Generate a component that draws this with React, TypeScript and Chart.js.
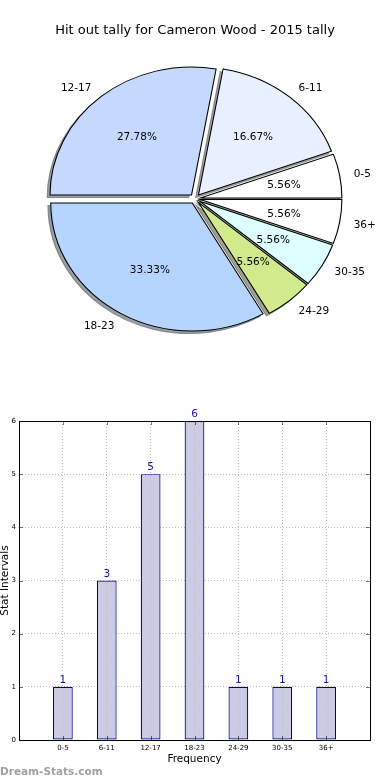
import React, { useEffect, useRef } from 'react';
import { Chart, registerables } from 'chart.js';

Chart.register(...registerables);

const categories = ['0-5', '6-11', '12-17', '18-23', '24-29', '30-35', '36+'];
const tallies = [1, 3, 5, 6, 1, 1, 1];
const pieColors = ['#ffffff', '#e9f0ff', '#c5d9ff', '#b5d5ff', '#d1ea8c', '#ddffff', '#ffffff'];
const explode = [0.038, 0.038, 0.038, 0.038, 0.038, 0.038, 0.038];
const yTickMax = 6;
const pieTitle = 'Hit out tally for Cameron Wood - 2015 tally';
const xTitle = 'Frequency';
const yTitle = 'Stat Intervals';
const watermark = 'Dream-Stats.com';

const FONT = "'DejaVu Sans', 'Liberation Sans', sans-serif";
const SX = 1.106; // horizontal stretch of the pie (ellipse)
const PIE_R = 128;

// Chart.js draws clockwise from east when rotation = 90, so reverse the order
const revCats = [...categories].reverse();
const revVals = [...tallies].reverse();
const revColors = [...pieColors].reverse();
const revExplode = [...explode].reverse();

function shadowColor(hex: string) {
  const r = parseInt(hex.slice(1, 3), 16);
  const g = parseInt(hex.slice(3, 5), 16);
  const b = parseInt(hex.slice(5, 7), 16);
  return `rgba(${Math.round(r * 0.3)},${Math.round(g * 0.3)},${Math.round(b * 0.3)},0.5)`;
}

const piePlugin = {
  id: 'piePlugin',
  beforeDatasetsDraw(chart: any) {
    const ctx = chart.ctx;
    const arcs = chart.getDatasetMeta(0).data;
    if (!arcs.length) return false;
    const cx = arcs[0].x;
    const cy = arcs[0].y;
    ctx.save();
    ctx.translate(cx, cy);
    ctx.scale(SX, 1);
    ctx.translate(-cx, -cy);
    // shadows first (all beneath wedges)
    arcs.forEach((arc: any, i: number) => {
      const { x, y, startAngle, endAngle, outerRadius } = arc.getProps(['x', 'y', 'startAngle', 'endAngle', 'outerRadius'], true);
      const mid = (startAngle + endAngle) / 2;
      const d = revExplode[i] * outerRadius;
      const ox = x + Math.cos(mid) * d - 2.8 / SX;
      const oy = y + Math.sin(mid) * d + 2.6;
      ctx.beginPath();
      ctx.moveTo(ox, oy);
      ctx.arc(ox, oy, outerRadius, startAngle, endAngle);
      ctx.closePath();
      ctx.fillStyle = shadowColor(revColors[i]);
      ctx.strokeStyle = shadowColor(revColors[i]);
      ctx.lineWidth = 1;
      ctx.fill();
      ctx.stroke();
    });
    arcs.forEach((arc: any, i: number) => {
      const { startAngle, endAngle, outerRadius } = arc.getProps(['startAngle', 'endAngle', 'outerRadius'], true);
      const mid = (startAngle + endAngle) / 2;
      const d = revExplode[i] * outerRadius;
      ctx.save();
      ctx.translate(Math.cos(mid) * d, Math.sin(mid) * d);
      arc.draw(ctx);
      ctx.restore();
    });
    ctx.restore();
    return false;
  },
  afterDraw(chart: any) {
    const ctx = chart.ctx;
    const arcs = chart.getDatasetMeta(0).data;
    const total = revVals.reduce((a, b) => a + b, 0);
    ctx.save();
    ctx.font = `10.5px ${FONT}`;
    ctx.fillStyle = '#000';
    ctx.textBaseline = 'middle';
    arcs.forEach((arc: any, i: number) => {
      const { x, y, startAngle, endAngle, outerRadius } = arc.getProps(['x', 'y', 'startAngle', 'endAngle', 'outerRadius'], true);
      const mid = (startAngle + endAngle) / 2;
      const d = revExplode[i] * outerRadius;
      const c = Math.cos(mid);
      const s = Math.sin(mid);
      const lr = 1.1 * outerRadius + d;
      const lx = x + SX * c * lr;
      const ly = y + s * lr + 1;
      ctx.textAlign = c > 0 ? 'left' : 'right';
      ctx.fillText(revCats[i], lx, ly);
      const pr = 0.6 * outerRadius + d;
      ctx.textAlign = 'center';
      ctx.fillText(((revVals[i] / total) * 100).toFixed(2) + '%', x + SX * c * pr, y + s * pr + 1);
    });
    ctx.restore();
  },
};

const barPlugin = {
  id: 'barPlugin',
  afterDraw(chart: any) {
    const ctx = chart.ctx;
    const { left, right, top, bottom } = chart.chartArea;
    const xs = chart.scales.x;
    const ys = chart.scales.y;
    ctx.save();
    // inward tick marks
    ctx.strokeStyle = 'rgba(0,0,0,0.55)';
    ctx.lineWidth = 1;
    ctx.beginPath();
    for (let i = 1; i <= categories.length; i++) {
      const px = Math.round(xs.getPixelForValue(i)) + 0.5;
      ctx.moveTo(px, bottom); ctx.lineTo(px, bottom - 4);
      ctx.moveTo(px, top); ctx.lineTo(px, top + 4);
    }
    for (let v = 1; v < yTickMax; v++) {
      const py = Math.round(ys.getPixelForValue(v)) + 0.5;
      ctx.moveTo(left, py); ctx.lineTo(left + 4, py);
      ctx.moveTo(right, py); ctx.lineTo(right - 4, py);
    }
    ctx.stroke();
    // frame
    ctx.strokeStyle = '#000';
    ctx.lineWidth = 1;
    ctx.strokeRect(Math.round(left) + 0.5, Math.round(top) + 0.5, Math.round(right - left), Math.round(bottom - top));
    // value labels
    const meta = chart.getDatasetMeta(0);
    const data = chart.data.datasets[0].data;
    ctx.font = `10.5px ${FONT}`;
    ctx.fillStyle = '#1414a6';
    ctx.textAlign = 'center';
    ctx.textBaseline = 'alphabetic';
    meta.data.forEach((bar: any, i: number) => {
      const v = data[i];
      if (v == null) return;
      ctx.fillText(String(v), bar.x, bar.y - 4);
    });
    ctx.restore();
  },
};

export default function App() {
  const pieRef = useRef<HTMLCanvasElement>(null);
  const barRef = useRef<HTMLCanvasElement>(null);

  useEffect(() => {
    const pie = new Chart(pieRef.current as HTMLCanvasElement, {
      type: 'pie',
      data: {
        labels: revCats,
        datasets: [
          {
            data: revVals,
            backgroundColor: revColors,
            borderColor: '#000',
            borderWidth: 1,
            borderJoinStyle: 'miter',
            radius: PIE_R,
            offset: 0,
          } as any,
        ],
      },
      options: {
        responsive: false,
        animation: false,
        events: [],
        rotation: 90,
        layout: { padding: { top: 0, bottom: 41.3, left: 0, right: 0 } },
        plugins: {
          legend: { display: false },
          tooltip: { enabled: false },
          title: {
            display: true,
            text: pieTitle,
            color: '#000',
            font: { family: FONT, size: 13, weight: 'normal', lineHeight: 1.2 },
            padding: { top: 23.2, bottom: 10 },
          },
        },
      } as any,
      plugins: [piePlugin],
    });

    const gridColor = '#bdbdbd';
    const bar = new Chart(barRef.current as HTMLCanvasElement, {
      type: 'bar',
      data: {
        labels: ['', ...categories, ''],
        datasets: [
          {
            data: [null, ...tallies, null],
            backgroundColor: '#cbcbe5',
            borderColor: '#000080',
            borderWidth: 1.2,
            borderSkipped: false,
            barPercentage: 0.45,
            categoryPercentage: 1,
          } as any,
        ],
      },
      options: {
        responsive: false,
        animation: false,
        events: [],
        layout: { padding: { top: 31, right: 20, bottom: 10, left: 0 } },
        plugins: { legend: { display: false }, tooltip: { enabled: false } },
        scales: {
          x: {
            type: 'category',
            offset: false,
            grid: { offset: false, color: gridColor, lineWidth: 1, drawTicks: false, z: 1 },
            border: { display: false, dash: [1, 2] },
            ticks: { font: { family: FONT, size: 7 }, color: '#000', padding: 4, maxRotation: 0, autoSkip: false },
            title: {
              display: true,
              text: xTitle,
              color: '#000',
              font: { family: FONT, size: 10.5, lineHeight: 1.2 },
              padding: { top: 0, bottom: 4 },
            },
            afterFit: (s: any) => { s.height = 30; },
          },
          y: {
            min: 0,
            max: yTickMax,
            grid: { color: gridColor, lineWidth: 1, drawTicks: false },
            border: { display: false, dash: [1, 2] },
            ticks: { stepSize: 1, font: { family: FONT, size: 7 }, color: '#000', padding: 3 },
            title: {
              display: true,
              text: yTitle,
              color: '#000',
              font: { family: FONT, size: 10.5, lineHeight: 1 },
              padding: 0,
            },
            afterFit: (s: any) => { s.width = 19; },
          },
        },
      } as any,
      plugins: [barPlugin],
    });

    return () => {
      pie.destroy();
      bar.destroy();
    };
  }, []);

  return (
    <div style={{ position: 'absolute', left: 0, top: 0, width: 390, height: 780, background: '#fff' }}>
      <canvas ref={pieRef} width={390} height={390} style={{ position: 'absolute', left: 0, top: 0 }} />
      <canvas ref={barRef} width={390} height={390} style={{ position: 'absolute', left: 0, top: 390 }} />
      <div
        style={{
          position: 'absolute',
          left: 0,
          top: 763,
          font: `bold 10.5px ${FONT}`,
          lineHeight: '16px',
          color: '#a0a0a0',
          whiteSpace: 'nowrap',
        }}
      >
        {watermark}
      </div>
    </div>
  );
}
